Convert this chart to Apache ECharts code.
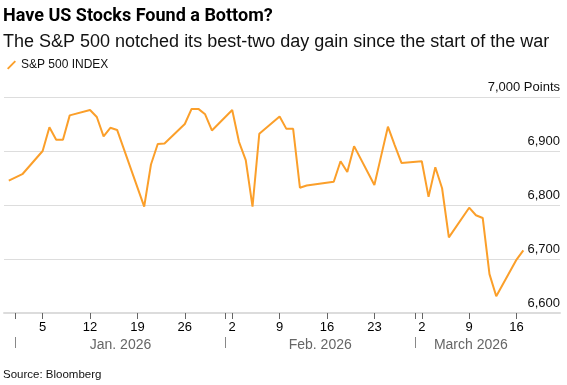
<!DOCTYPE html>
<html>
<head>
<meta charset="utf-8">
<script src="https://cdn.jsdelivr.net/npm/echarts@6/dist/echarts.min.js"></script>
<style>
html,body{margin:0;padding:0;background:#fff;}
#c{width:567px;height:385px;}
</style>
</head>
<body>
<div id="c"></div>
<script>
var titleText = 'Have US Stocks Found a Bottom?';
var subtitleText = 'The S&P 500 notched its best-two day gain since the start of the war';
var seriesName = 'S&P 500 INDEX';
var sourceText = 'Source: Bloomberg';

var dates = [
  '2025-12-31','2026-01-02','2026-01-05','2026-01-06','2026-01-07','2026-01-08','2026-01-09',
  '2026-01-12','2026-01-13','2026-01-14','2026-01-15','2026-01-16',
  '2026-01-20','2026-01-21','2026-01-22','2026-01-23',
  '2026-01-26','2026-01-27','2026-01-28','2026-01-29','2026-01-30',
  '2026-02-02','2026-02-03','2026-02-04','2026-02-05','2026-02-06',
  '2026-02-09','2026-02-10','2026-02-11','2026-02-12','2026-02-13',
  '2026-02-17','2026-02-18','2026-02-19','2026-02-20',
  '2026-02-23','2026-02-24','2026-02-25','2026-02-26','2026-02-27',
  '2026-03-02','2026-03-03','2026-03-04','2026-03-05','2026-03-06',
  '2026-03-09','2026-03-10','2026-03-11','2026-03-12','2026-03-13',
  '2026-03-16','2026-03-17'
];
var values = [
  6845, 6857, 6900, 6944, 6921, 6921, 6966,
  6976, 6963, 6927, 6943, 6939,
  6797, 6875, 6913, 6914,
  6950, 6978, 6978, 6968, 6938,
  6976, 6917, 6883, 6797, 6932,
  6964, 6941, 6941, 6832, 6836,
  6843, 6881, 6861, 6909,
  6837, 6891, 6945, 6911, 6878,
  6881, 6815, 6870, 6831, 6740,
  6795, 6781, 6776, 6672, 6631,
  6699, 6716
];

var weekTickDates = ['2026-01-05','2026-01-12','2026-01-19','2026-01-26','2026-02-02','2026-02-09','2026-02-16','2026-02-23','2026-03-02','2026-03-09','2026-03-16'];
var monthStartDates = ['2026-01-01','2026-02-01','2026-03-01'];
var monthLabels = ['Jan. 2026','Feb. 2026','March 2026'];
var monthLabelDates = ['2026-01-16T12:00:00Z','2026-02-15T00:00:00Z','2026-03-09T06:00:00Z'];
var yTicks = [6600, 6700, 6800, 6900, 7000];
var axisMin = '2025-12-30T07:00:00Z';
var axisMax = '2026-03-22T10:00:00Z';

function ts(s){ return new Date(s).getTime(); }

var seriesData = dates.map(function(d, i){ return [ts(d), values[i]]; });
var weekTicks = weekTickDates.map(ts);
var monthTicks = monthStartDates.map(ts);
var monthMid = monthLabelDates.map(ts);
var allTicks = weekTicks.concat(monthTicks).sort(function(a,b){return a-b;});

var FONT = '"Liberation Sans", Arial, sans-serif';
var chart = echarts.init(document.getElementById('c'), null, {renderer: 'canvas'});
chart.setOption({
  animation: false,
  backgroundColor: '#fff',
  textStyle: {fontFamily: FONT},
  title: [
    {text: titleText, left: 3, top: 7, padding: 0, textStyle: {fontFamily: 'Roboto, "Liberation Sans", sans-serif', fontSize: 18, fontWeight: 'bold', color: '#000'}},
    {text: subtitleText, left: 3, top: 33, padding: 0, textStyle: {fontFamily: FONT, fontSize: 18, fontWeight: 'normal', color: '#111'}},
    {text: sourceText, left: 3, top: 369, padding: 0, textStyle: {fontFamily: FONT, fontSize: 11.5, fontWeight: 'normal', color: '#111'}}
  ],
  legend: {
    left: 2, top: 54,
    itemWidth: 9, itemHeight: 10, itemGap: 8,
    icon: 'path://M0,9 L8,1 L9.4,2.4 L1.4,10.4 Z',
    textStyle: {fontFamily: FONT, fontSize: 12, color: '#111'},
    data: [seriesName]
  },
  grid: {left: 4, right: 7, top: 97, bottom: 72},
  xAxis: [
    {
      type: 'value', min: ts(axisMin), max: ts(axisMax),
      axisLine: {show: true, onZero: false, lineStyle: {color: '#dcdcdc', width: 2}},
      axisTick: {show: true, customValues: allTicks, length: 6, lineStyle: {color: '#666', width: 1}},
      axisLabel: {
        customValues: weekTicks, margin: 8, fontSize: 13, color: '#000', fontFamily: FONT,
        formatter: function(v){ return String(new Date(v).getUTCDate()); }
      },
      splitLine: {show: false}
    },
    {
      type: 'value', min: ts(axisMin), max: ts(axisMax), position: 'bottom', offset: 24,
      axisLine: {show: false, onZero: false},
      axisTick: {show: true, customValues: monthTicks, length: 11, lineStyle: {color: '#888', width: 1}},
      axisLabel: {
        customValues: monthMid, margin: 8, fontSize: 14, color: '#666', fontFamily: FONT, verticalAlign: 'middle',
        formatter: function(v){ var i = monthMid.indexOf(v); return i >= 0 ? monthLabels[i] : ''; }
      },
      splitLine: {show: false}
    }
  ],
  yAxis: {
    type: 'value', position: 'right', min: yTicks[0], max: yTicks[yTicks.length-1], interval: 100,
    axisLine: {show: false}, axisTick: {show: false},
    axisLabel: {
      inside: true, margin: 0, fontSize: 13, color: '#111', fontFamily: FONT, verticalAlign: 'bottom',
      padding: [0,0,3,0],
      formatter: function(v){ var s = v.toLocaleString('en-US'); return v === yTicks[yTicks.length-1] ? s + ' Points' : s; }
    },
    splitLine: {show: true, lineStyle: {color: '#dddddd', width: 1}}
  },
  series: [{
    name: seriesName, type: 'line', data: seriesData, xAxisIndex: 0,
    showSymbol: false, symbol: 'none',
    lineStyle: {color: '#fb9f2a', width: 2},
    itemStyle: {color: '#fb9f2a'}
  }]
});
</script>
</body>
</html>
